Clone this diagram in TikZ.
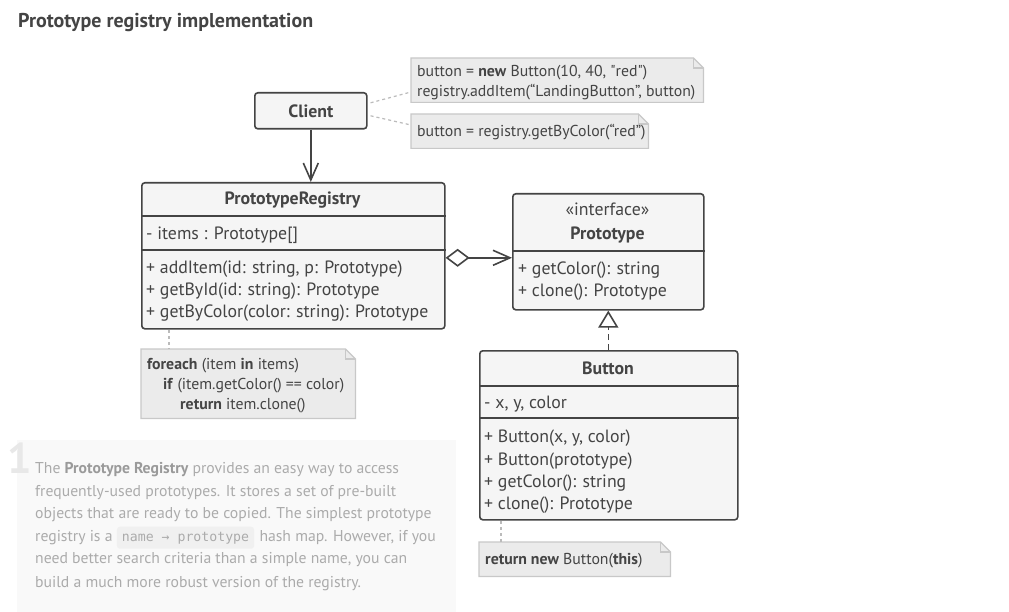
\documentclass[tikz,border=0pt]{standalone}
\usepackage{fontspec}
\setmainfont{PT Sans}
\newfontfamily\codefont{DejaVu Sans Mono}
\usetikzlibrary{arrows.meta,calc}
\definecolor{ink}{HTML}{444444}
\definecolor{boxfill}{HTML}{F5F5F5}
\definecolor{notefill}{HTML}{EBEBEB}
\definecolor{noteline}{HTML}{C8C8C8}
\definecolor{descfill}{HTML}{F9F9F9}
\definecolor{desctext}{HTML}{ABABAB}
\definecolor{descbold}{HTML}{9A9A9A}
\definecolor{codefill}{HTML}{F0F0F0}
\definecolor{dotline}{HTML}{BBBBBB}
\definecolor{bignum}{HTML}{E8E8E8}
\newcommand\drawnote[1]{%
  \filldraw[fill=notefill, draw=noteline, line width=1.2] (#1.north west) -- ([xshift=-10pt]#1.north east) -- ([yshift=-10pt]#1.north east) -- (#1.south east) -- (#1.south west) -- cycle;
  \draw[draw=noteline, line width=1.2] ([xshift=-10pt]#1.north east) -- ([xshift=-10pt,yshift=-10pt]#1.north east) -- ([yshift=-10pt]#1.north east);
}
\begin{document}
\begin{tikzpicture}[x=1pt,y=-1pt,
  umlbox/.style={draw=ink, line width=1.6, fill=boxfill, rounded corners=3, inner sep=0, anchor=north west},
  divider/.style={draw=ink, line width=1.6},
  utxt/.style={text=ink, inner sep=0, font=\fontsize{17.8}{20}\selectfont},
  ubold/.style={text=ink, inner sep=0, font=\fontsize{17.8}{20}\selectfont\bfseries},
  ntxt/.style={text=ink, inner sep=0, anchor=base west, font=\fontsize{15.8}{18}\selectfont},
  dtxt/.style={text=desctext, inner sep=0, anchor=base west, font=\fontsize{15.7}{18}\selectfont},
  notebox/.style={inner sep=0, anchor=north west},
  dotconn/.style={draw=dotline, line width=1.2, dash pattern=on 3pt off 3pt},
  openhead/.tip={Straight Barb[length=17pt,width=15pt,line width=1.6pt]},
  assoc/.style={draw=ink, line width=1.6, -openhead}
]
\useasboundingbox (0,0) rectangle (1009,612);
\fill[white] (0,0) rectangle (1009,612);

% title
\node[anchor=base west, inner sep=0, text=ink, font=\fontsize{20}{24}\selectfont\bfseries] (title) at (18,28) {Prototype registry implementation};

% description panel
\fill[descfill] (17,440) rectangle (456,612);
\node[anchor=base west, inner sep=0, text=bignum, font=\fontsize{43}{48}\selectfont\bfseries] (num) at (7,473) {1};
\node[dtxt] (d1) at (35,473) {The \textcolor{descbold}{\bfseries Prototype Registry} provides an easy way to access};
\node[dtxt] (d2) at (35,496) {frequently-used prototypes. It stores a set of pre-built};
\node[dtxt] (d3) at (35,518) {objects that are ready to be copied. The simplest prototype};
\node[dtxt] (d4a) at (35,541) {registry is a};
\node[anchor=base west, fill=codefill, rounded corners=3, text=desctext, inner xsep=5, inner ysep=5, font=\codefont\fontsize{13.2}{15}\selectfont] (code) at ([xshift=4pt]d4a.base east) {name → prototype};
\node[dtxt] (d4b) at ([xshift=5pt]code.base east) {hash map. However, if you};
\node[dtxt] (d5) at (35,563) {need better search criteria than a simple name, you can};
\node[dtxt] (d6) at (35,587) {build a much more robust version of the registry.};

% Client
\node[umlbox, minimum width=112, minimum height=36, ubold] (client) at (254,92) {Client};

% notes for client
\node[notebox, minimum width=292, minimum height=44] (n1) at (411,58) {};
\drawnote{n1}
\node[ntxt] (n1a) at (417,77) {button = \textbf{new} Button(10, 40, \textquotedbl red\textquotedbl)};
\node[ntxt] (n1b) at (417,97) {registry.addItem(“LandingButton”, button)};
\node[notebox, minimum width=237, minimum height=34] (n2) at (411,114) {};
\drawnote{n2}
\node[ntxt] (n2a) at (417,137) {button = registry.getByColor(“red”)};
\coordinate (c1) at ([xshift=3pt,yshift=8pt]client.east);
\coordinate (c2) at ([xshift=3pt,yshift=-5pt]client.east);
\draw[dotconn] (c1) -- ([yshift=-34pt]n1.north west);
\draw[dotconn] (c2) -- ([yshift=-11pt]n2.north west);

% PrototypeRegistry
\node[umlbox, minimum width=303, minimum height=146] (reg) at (141,182) {};
\draw[divider] ([yshift=-34pt]reg.north west) -- ([yshift=-34pt]reg.north east);
\draw[divider] ([yshift=-68pt]reg.north west) -- ([yshift=-68pt]reg.north east);
\node[ubold, anchor=base] (regh) at (292.5,205) {PrototypeRegistry};
\node[utxt, anchor=base west] (rega) at (146,240) {- items : Prototype[]};
\node[utxt, anchor=base west] (regm1) at (146,273) {+ addItem(id: string, p: Prototype)};
\node[utxt, anchor=base west] (regm2) at (146,295) {+ getById(id: string): Prototype};
\node[utxt, anchor=base west] (regm3) at (146,317) {+ getByColor(color: string): Prototype};

\draw[assoc] (client.south) -- (client.south |- reg.north);

% foreach note
\node[notebox, minimum width=214, minimum height=69] (n3) at (141,349) {};
\drawnote{n3}
\node[ntxt] (n3a) at (147,369) {\textbf{foreach} (item \textbf{in} items)};
\node[ntxt] (n3b) at (163,389) {\textbf{if} (item.getColor() == color)};
\node[ntxt] (n3c) at (180,409) {\textbf{return} item.clone()};
\draw[dotconn] (169,330) -- (n3.north west -| 169,0);

% Prototype interface
\node[umlbox, minimum width=191, minimum height=116] (proto) at (512,193) {};
\draw[divider] ([yshift=-58pt]proto.north west) -- ([yshift=-58pt]proto.north east);
\node[utxt, anchor=base] (proto1) at (607.5,216) {«interface»};
\node[ubold, anchor=base] (proto2) at (607.5,240) {Prototype};
\node[utxt, anchor=base west] (protom1) at (518,275) {+ getColor(): string};
\node[utxt, anchor=base west] (protom2) at (518,297) {+ clone(): Prototype};

% aggregation
\coordinate (aggA) at ([yshift=-2pt]reg.east);
\draw[draw=ink, line width=1.6, {Diamond[open,length=24pt,width=18pt,line width=1.6pt]}-openhead] (aggA) -- (aggA -| proto.west);

% Button
\node[umlbox, minimum width=258, minimum height=169] (btn) at (479,350) {};
\draw[divider] ([yshift=-36pt]btn.north west) -- ([yshift=-36pt]btn.north east);
\draw[divider] ([yshift=-68pt]btn.north west) -- ([yshift=-68pt]btn.north east);
\node[ubold, anchor=base] (btnh) at (608,374) {Button};
\node[utxt, anchor=base west] (btna) at (484,408) {- x, y, color};
\node[utxt, anchor=base west] (btnm1) at (484,442) {+ Button(x, y, color)};
\node[utxt, anchor=base west] (btnm2) at (484,465) {+ Button(prototype)};
\node[utxt, anchor=base west] (btnm3) at (484,487) {+ getColor(): string};
\node[utxt, anchor=base west] (btnm4) at (484,509) {+ clone(): Prototype};

% realization
\draw[draw=ink, line width=1.6, dash pattern=on 6pt off 4pt, -{Triangle[open,length=17pt,width=20pt,line width=1.6pt]}] (btn.north -| proto.south) -- (proto.south);

% return note
\node[notebox, minimum width=191, minimum height=34] (n4) at (479,542) {};
\drawnote{n4}
\node[ntxt] (n4a) at (485,564) {\textbf{return new} Button(\textbf{this})};
\draw[dotconn] (501,521) -- (n4.north west -| 501,0);
\end{tikzpicture}
\end{document}
